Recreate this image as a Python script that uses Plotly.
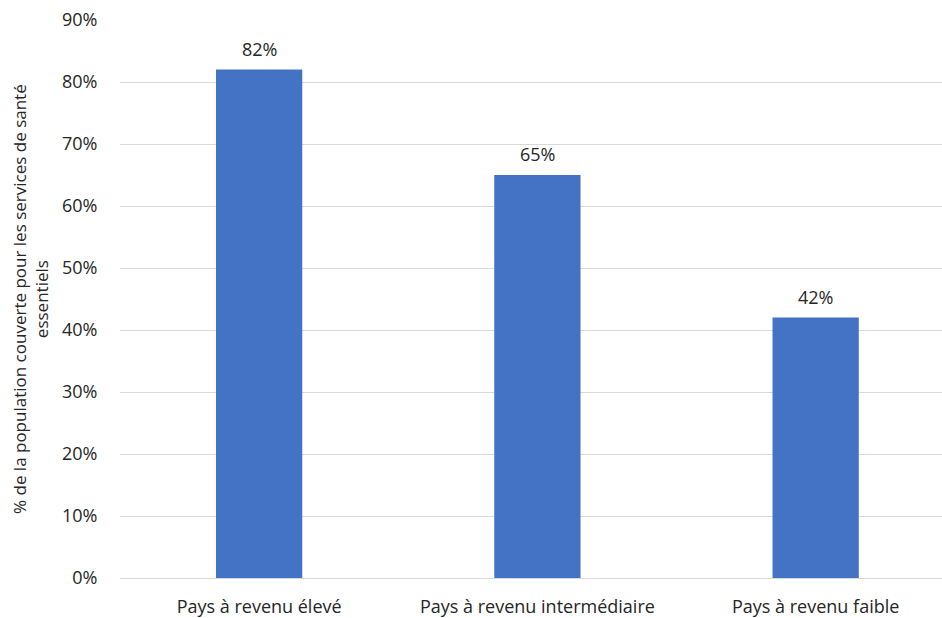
import plotly.graph_objects as go

categories = ["Pays à revenu élevé", "Pays à revenu intermédiaire", "Pays à revenu faible"]
coverage = [0.82, 0.65, 0.42]
tick_values = [0, 0.1, 0.2, 0.3, 0.4, 0.5, 0.6, 0.7, 0.8, 0.9]
tick_labels = ["0%", "10%", "20%", "30%", "40%", "50%", "60%", "70%", "80%", "90%"]
y_title = "% de la population couverte pour les services de santé<br>essentiels"

FONT = "'Open Sans', Lato, sans-serif"
SIZE = 18
TEXT_COLOR = "#262626"

fig = go.Figure(
    go.Bar(
        x=categories,
        y=coverage,
        marker=dict(color="#4472C4", line=dict(width=0)),
        width=0.31,
        hoverinfo="x+y",
    )
)

# value labels placed above each bar
value_labels = [
    dict(
        x=c,
        y=v,
        xref="x",
        yref="y",
        text=f"{v:.0%}",
        showarrow=False,
        xanchor="center",
        yanchor="bottom",
        yshift=7,
        font=dict(family=FONT, size=SIZE, color=TEXT_COLOR),
    )
    for c, v in zip(categories, coverage)
]

fig.update_layout(
    width=942,
    height=618,
    margin=dict(l=120, r=0, t=20, b=40),
    paper_bgcolor="white",
    plot_bgcolor="white",
    showlegend=False,
    font=dict(family=FONT, size=SIZE, color=TEXT_COLOR),
    xaxis=dict(
        range=[-0.5, 2.454],
        automargin=False,
        showgrid=False,
        showline=False,
        ticks="outside",
        ticklen=12,
        tickcolor="rgba(0,0,0,0)",
        tickfont=dict(family=FONT, size=SIZE, color=TEXT_COLOR),
    ),
    yaxis=dict(
        range=[0, 0.9],
        automargin=False,
        tickvals=tick_values,
        ticktext=tick_labels,
        showgrid=True,
        gridcolor="#D9D9D9",
        gridwidth=1,
        zeroline=True,
        zerolinecolor="#D9D9D9",
        zerolinewidth=1,
        showline=False,
        ticks="outside",
        ticklen=18,
        tickcolor="rgba(0,0,0,0)",
        tickfont=dict(family=FONT, size=SIZE, color=TEXT_COLOR),
    ),
    annotations=value_labels + [
        dict(
            text=y_title,
            xref="paper",
            yref="paper",
            x=-0.1095,
            y=0.5,
            xanchor="center",
            yanchor="middle",
            textangle=-90,
            showarrow=False,
            font=dict(family=FONT, size=17, color=TEXT_COLOR),
        )
    ],
)

fig.write_html("out.html")
